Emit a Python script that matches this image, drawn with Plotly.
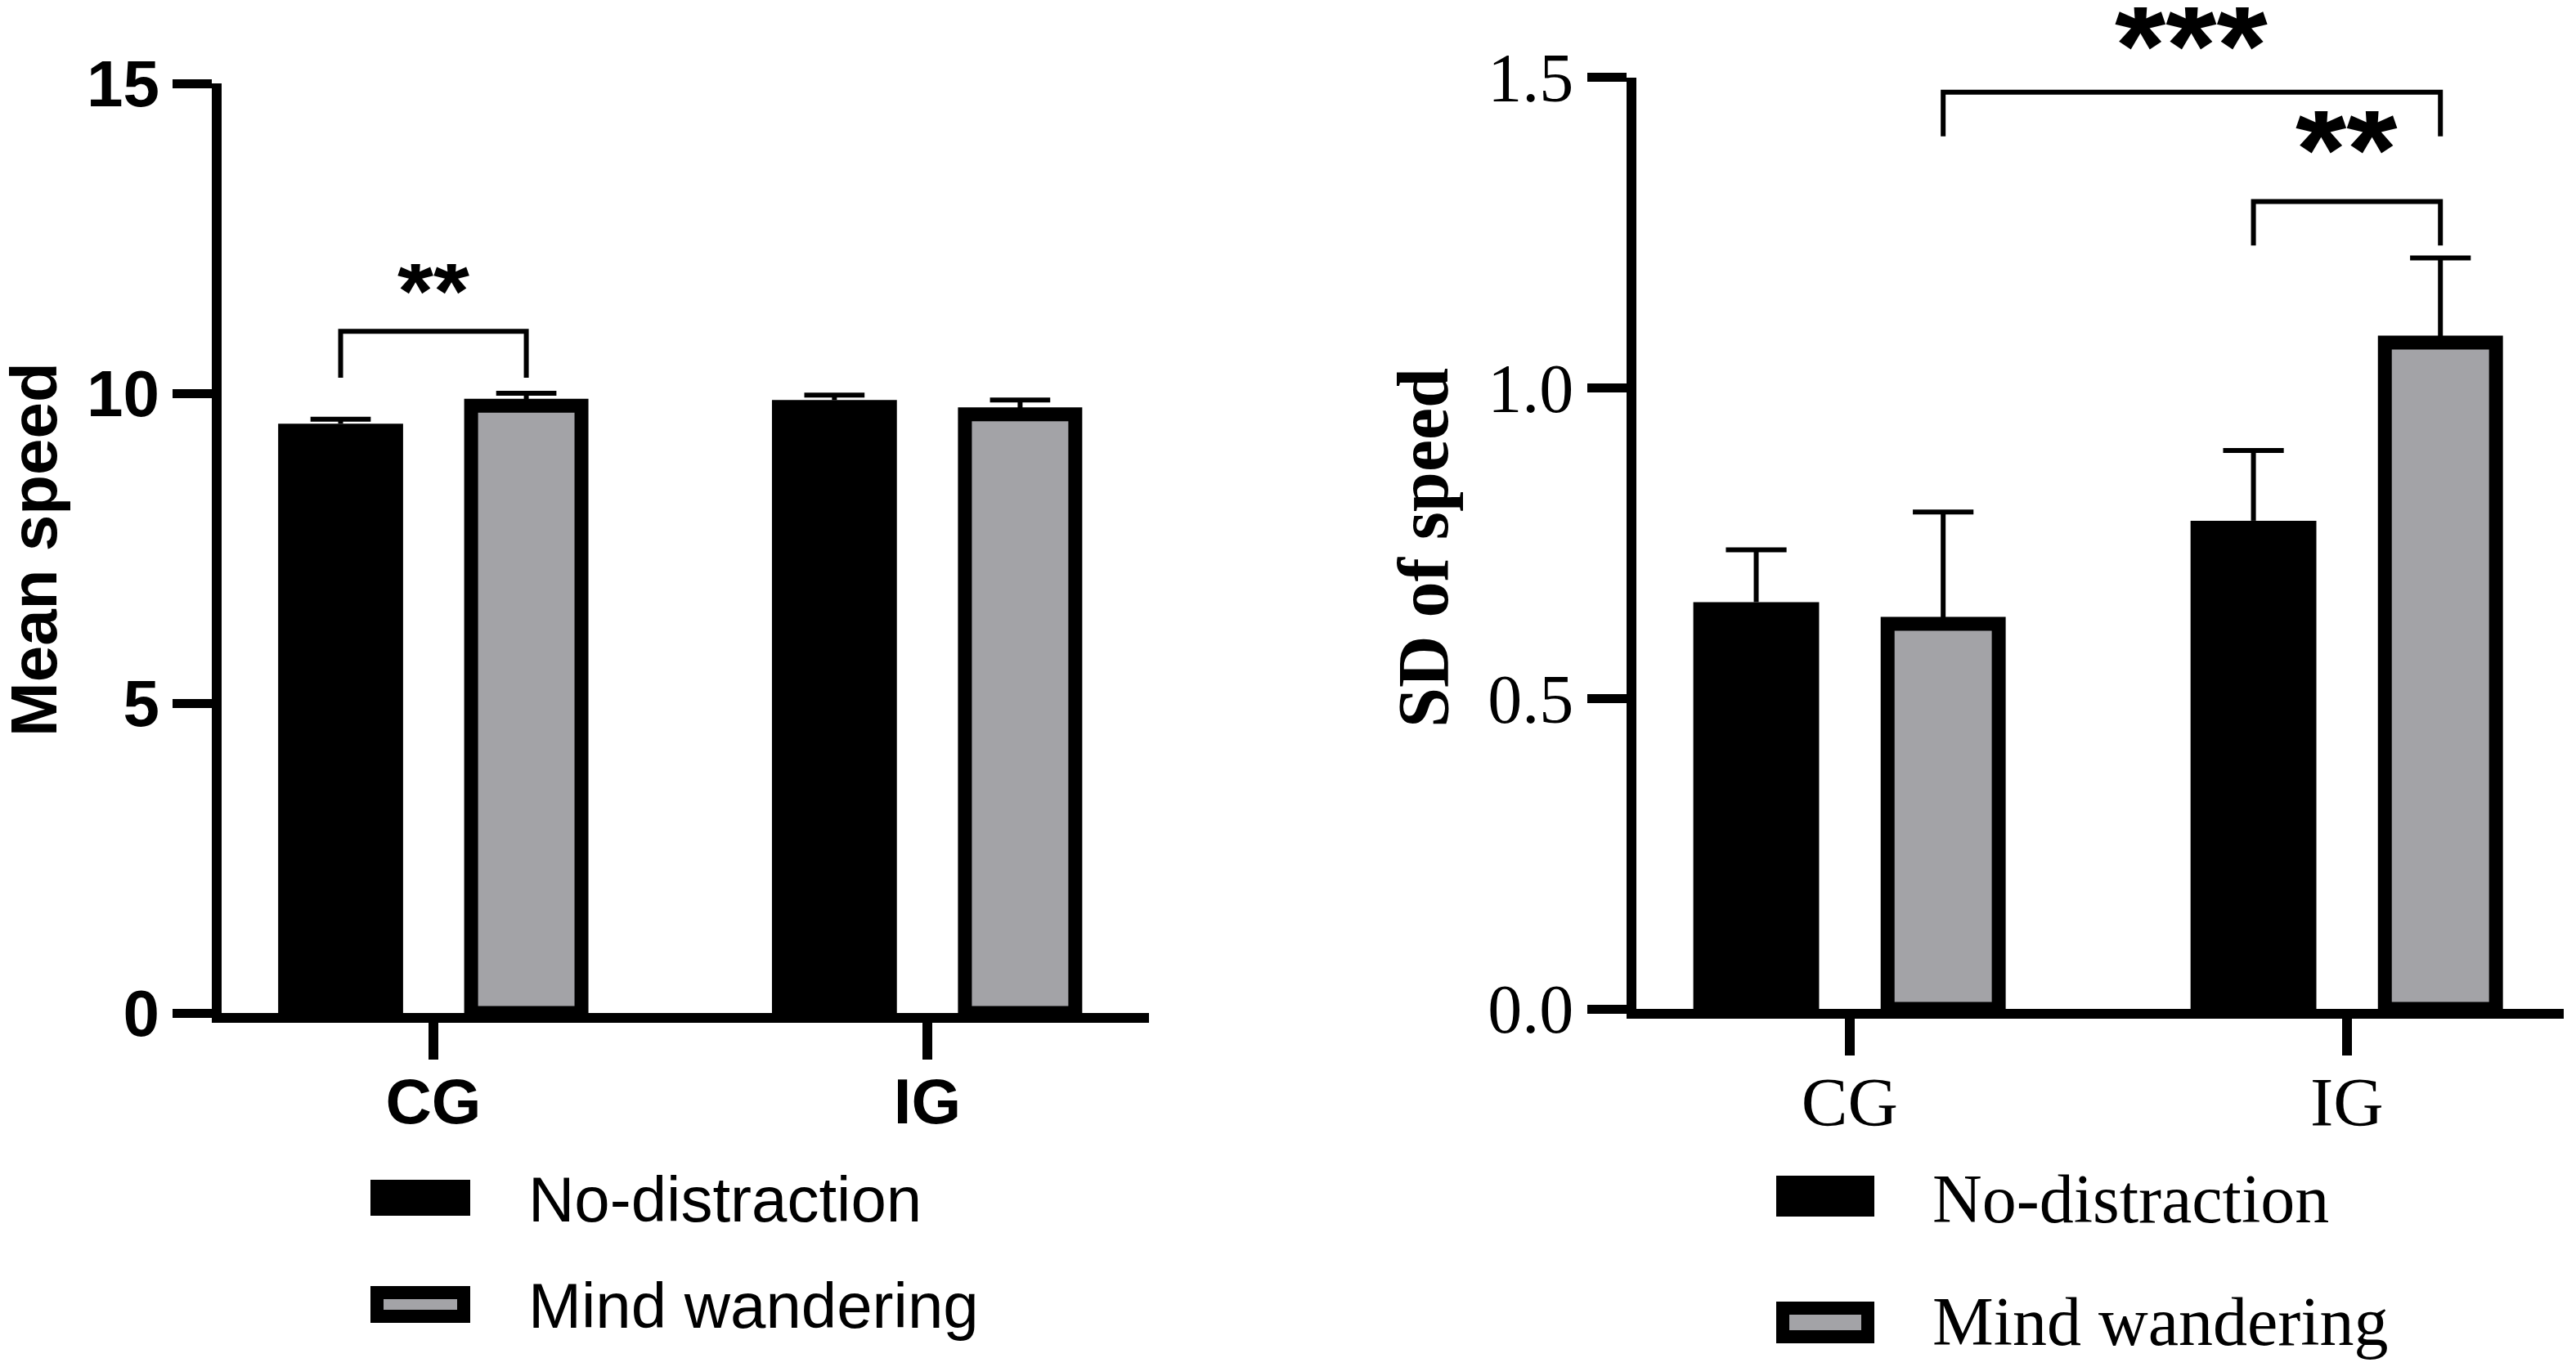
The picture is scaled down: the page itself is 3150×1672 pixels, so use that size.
import numpy as np
import plotly.graph_objects as go

groups = ["CG", "IG"]
series = ["No-distraction", "Mind wandering"]

# left panel: mean speed
mean_nd = [9.51, 9.89]
mean_nd_err = [0.07, 0.08]
mean_mw = [9.80, 9.66]
mean_mw_err = [0.20, 0.23]
mean_ticks = [0, 5, 10, 15]

# right panel: SD of speed
sd_nd = [0.655, 0.786]
sd_nd_err = [0.084, 0.113]
sd_mw = [0.620, 1.073]
sd_mw_err = [0.180, 0.136]
sd_ticks = [0.0, 0.5, 1.0, 1.5]
sd_ticktext = ["0.0", "0.5", "1.0", "1.5"]

# significance brackets: (group, series) of both ends, bracket height, label
mean_sig = [((0, 0), (0, 1), 11.0, "**")]
sd_sig = [((0, 1), (1, 1), 1.476, "***"), ((1, 0), (1, 1), 1.300, "**")]

BLACK = "#000000"
GREY = "#a3a3a7"
OFFSET = 0.188          # bar centre offset from group centre
CAP = 0.061             # half width of error caps
PAGE = 8                # default body margin of the html page
FW, FH = 3150 - 2 * PAGE, 1672 - 2 * PAGE
SANS = "Liberation Sans, Arial, sans-serif"
SERIF = "Liberation Serif, Times New Roman, serif"


def px_x(p):
    return (p - PAGE) / FW


def px_y(p):
    return 1 - (p - PAGE) / FH


fig = go.Figure()


def add_panel(xa, ya, nd, nd_err, mw, mw_err, sig, leg, star_size, star_shifts):
    idx = np.arange(len(groups))
    offs = [-OFFSET, OFFSET]
    fig.add_trace(go.Bar(x=idx + offs[0], y=nd, width=0.253, name=series[0],
                         marker=dict(color=BLACK, line=dict(width=0)),
                         xaxis=xa, yaxis=ya))
    fig.add_trace(go.Bar(x=idx + offs[1], y=mw, width=0.2235, name=series[1],
                         marker=dict(color=GREY, line=dict(color=BLACK, width=17)),
                         xaxis=xa, yaxis=ya))

    # upper error bars only
    ex, ey = [], []
    for k, (vals, errs) in enumerate(((nd, nd_err), (mw, mw_err))):
        for x0, v, e in zip(idx + offs[k], vals, errs):
            ex += [x0, x0, None, x0 - CAP, x0 + CAP, None]
            ey += [v, v + e, None, v + e, v + e, None]
    fig.add_trace(go.Scatter(x=ex, y=ey, mode="lines", hoverinfo="skip",
                             line=dict(color=BLACK, width=6), xaxis=xa, yaxis=ya))

    # significance brackets
    bx, by = [], []
    for ((g1, s1), (g2, s2), yb, label), shift in zip(sig, star_shifts):
        x1 = g1 + offs[s1]
        x2 = g2 + offs[s2]
        bx += [x1, x1, x2, x2, None]
        by += [yb - leg, yb, yb, yb - leg, None]
        fig.add_annotation(x=(x1 + x2) / 2, y=yb, xref=xa, yref=ya, text=label,
                           showarrow=False, yanchor="middle", yshift=shift,
                           height=round(star_size * 0.58), valign="middle",
                           font=dict(family=SANS, size=star_size, color=BLACK, weight="bold"))
    fig.add_trace(go.Scatter(x=bx, y=by, mode="lines", hoverinfo="skip",
                             line=dict(color=BLACK, width=6), xaxis=xa, yaxis=ya))


add_panel("x", "y", mean_nd, mean_nd_err, mean_mw, mean_mw_err, mean_sig, 0.75, 113, [49])
add_panel("x2", "y2", sd_nd, sd_nd_err, sd_mw, sd_mw_err, sd_sig, 0.071, 160, [57, 64])

axis_common = dict(showline=True, linecolor=BLACK, showgrid=False, zeroline=False,
                   ticks="outside", tickcolor=BLACK, fixedrange=True, automargin=False)

fig.update_layout(
    width=FW, height=FH,
    margin=dict(l=0, r=0, t=0, b=0, autoexpand=False),
    paper_bgcolor="white", plot_bgcolor="white",
    showlegend=False,
    xaxis=dict(axis_common, domain=[px_x(271), px_x(1405)], range=[-0.429, 1.449],
               linewidth=12, tickwidth=12, ticklen=45, ticklabelstandoff=-16,
               tickvals=list(range(len(groups))), ticktext=groups,
               tickfont=dict(family=SANS, size=78, color=BLACK, weight="bold")),
    yaxis=dict(axis_common, domain=[px_y(1239), px_y(102)], range=[0, 15],
               linewidth=12, tickwidth=11, ticklen=48, tickvals=mean_ticks,
               tickfont=dict(family=SANS, size=80, color=BLACK, weight="bold")),
    xaxis2=dict(axis_common, domain=[px_x(2001), px_x(3135)], range=[-0.429, 1.436],
                anchor="y2", linewidth=12, tickwidth=12, ticklen=45, ticklabelstandoff=-16,
                tickvals=list(range(len(groups))), ticktext=groups,
                tickfont=dict(family=SERIF, size=85, color=BLACK)),
    yaxis2=dict(axis_common, domain=[px_y(1234), px_y(94.5)], range=[0, 1.5],
                anchor="x2", linewidth=12, tickwidth=11, ticklen=48,
                tickvals=sd_ticks, ticktext=sd_ticktext,
                tickfont=dict(family=SERIF, size=84, color=BLACK)),
)

# axis titles
fig.add_annotation(x=px_x(48), y=px_y(672), xref="paper", yref="paper", text="Mean speed",
                   textangle=-90, showarrow=False, xanchor="center", yanchor="middle",
                   height=76, valign="bottom",
                   font=dict(family=SANS, size=80, color=BLACK, weight="bold"))
fig.add_annotation(x=px_x(1740), y=px_y(670), xref="paper", yref="paper", text="SD of speed",
                   textangle=-90, showarrow=False, xanchor="center", yanchor="middle",
                   font=dict(family=SERIF, size=88, color=BLACK, weight="bold"))

# legends drawn as swatches + labels below each panel
legends = [
    dict(x0=453, x1=575, rows=[(1443, 1487, 1467), (1573, 1618, 1597)], tx=644,
         font=dict(family=SANS, size=78, color=BLACK)),
    dict(x0=2172, x1=2292, rows=[(1438, 1488, 1466), (1592, 1643, 1616)], tx=2361,
         font=dict(family=SERIF, size=84, color=BLACK)),
]
for lg in legends:
    for k, (top, bot, mid) in enumerate(lg["rows"]):
        if k == 0:
            fig.add_shape(type="rect", xref="paper", yref="paper",
                          x0=px_x(lg["x0"]), x1=px_x(lg["x1"]), y0=px_y(bot), y1=px_y(top),
                          fillcolor=BLACK, line=dict(width=0))
        else:
            fig.add_shape(type="rect", xref="paper", yref="paper",
                          x0=px_x(lg["x0"] + 8), x1=px_x(lg["x1"] - 8),
                          y0=px_y(bot - 8), y1=px_y(top + 8),
                          fillcolor=GREY, line=dict(color=BLACK, width=16))
        fig.add_annotation(x=px_x(lg["tx"]), y=px_y(mid), xref="paper", yref="paper",
                           text=series[k], showarrow=False, xanchor="left", yanchor="middle",
                           font=lg["font"])

fig.write_html("out.html")
